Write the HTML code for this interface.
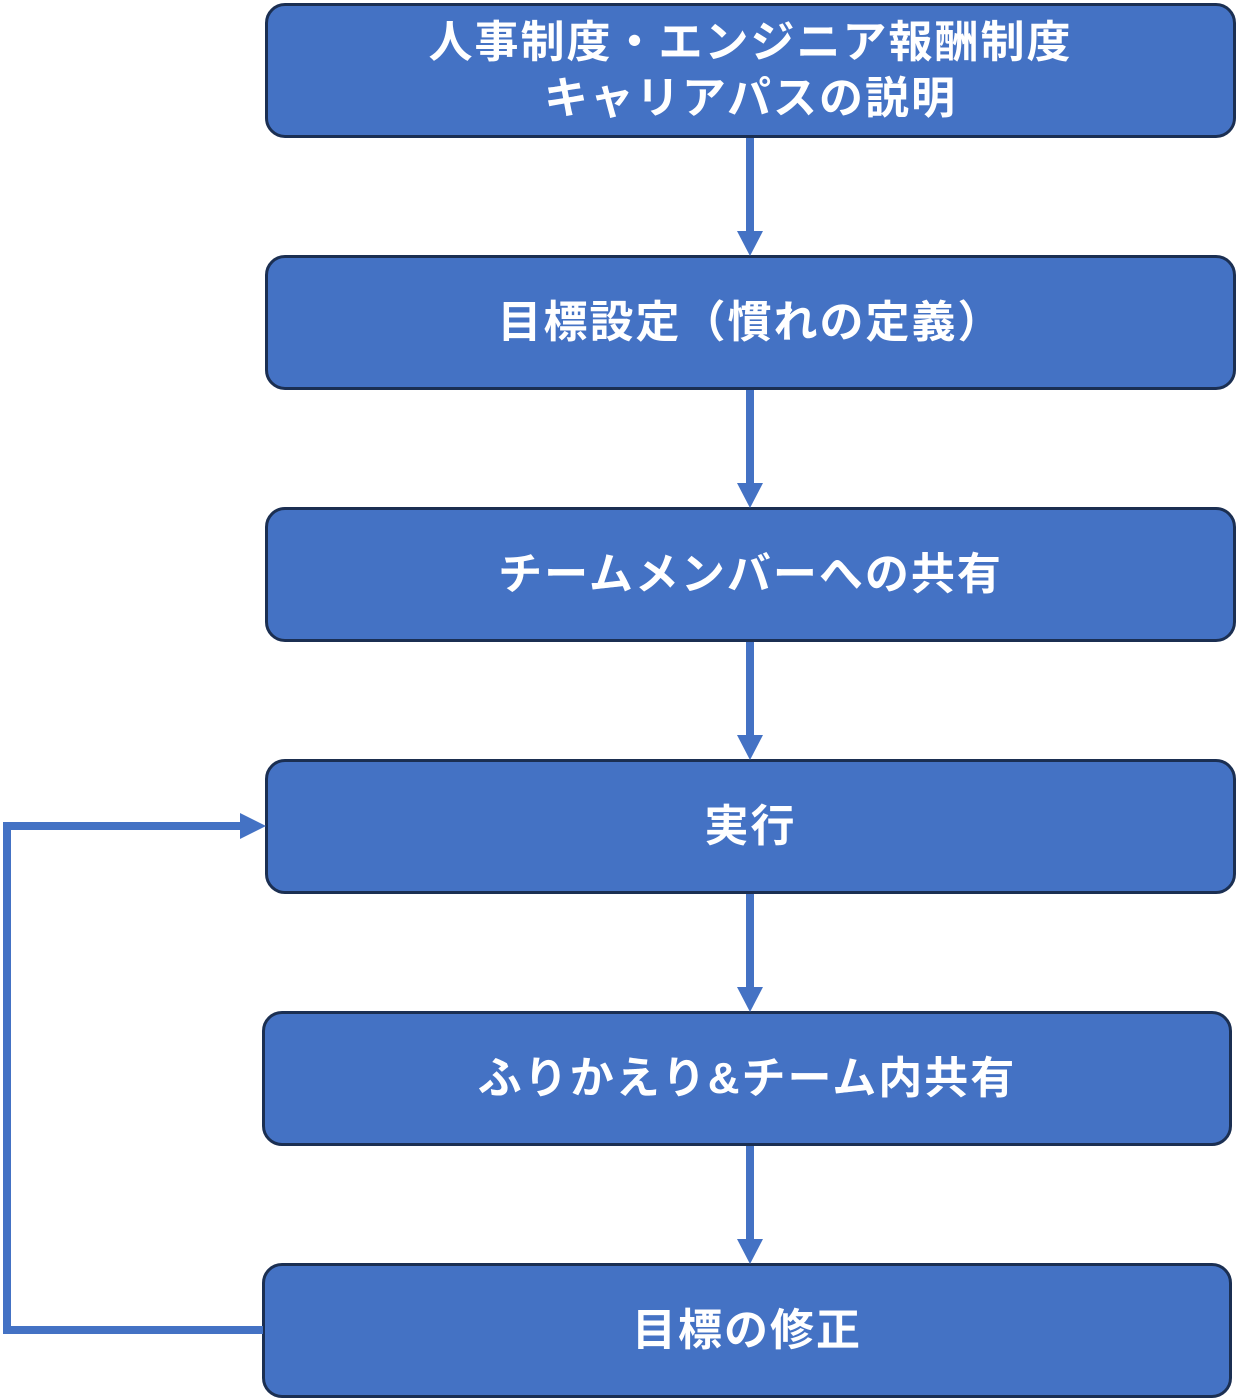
<!DOCTYPE html>
<html><head><meta charset="utf-8"><style>
body{margin:0;width:1237px;height:1400px;background:#fff;position:relative;overflow:hidden;font-family:"Liberation Sans","Noto Sans CJK JP",sans-serif}
.b{position:absolute;box-sizing:border-box;background:#4472C4;border:3px solid #1b2f52;border-radius:20px;color:#fff;font-weight:bold;font-size:44px;display:flex;align-items:center;justify-content:center;text-align:center;line-height:56px;letter-spacing:2px}
svg{position:absolute;left:0;top:0}
</style></head><body>
<div class="b" style="left:265px;top:3px;width:971px;height:135px">人事制度・エンジニア報酬制度<br>キャリアパスの説明</div>
<div class="b" style="left:265px;top:255px;width:971px;height:135px">目標設定（慣れの定義）</div>
<div class="b" style="left:265px;top:507px;width:971px;height:135px">チームメンバーへの共有</div>
<div class="b" style="left:265px;top:759px;width:971px;height:135px">実行</div>
<div class="b" style="left:262px;top:1011px;width:970px;height:135px">ふりかえり&amp;チーム内共有</div>
<div class="b" style="left:262px;top:1263px;width:970px;height:135px">目標の修正</div>
<svg width="1237" height="1400">
<g fill="#4472C4" stroke="none">
<rect x="746" y="138" width="8" height="94"/><polygon points="737,231 763,231 750,256"/>
<rect x="746" y="390" width="8" height="94"/><polygon points="737,483 763,483 750,508"/>
<rect x="746" y="642" width="8" height="94"/><polygon points="737,735 763,735 750,760"/>
<rect x="746" y="894" width="8" height="94"/><polygon points="737,987 763,987 750,1012"/>
<rect x="746" y="1146" width="8" height="94"/><polygon points="737,1239 763,1239 750,1264"/>
<polygon points="240,813 266,826 240,839"/>
</g>
<polyline points="263,1330 7,1330 7,826 242,826" fill="none" stroke="#4472C4" stroke-width="8"/>
</svg>
</body></html>
